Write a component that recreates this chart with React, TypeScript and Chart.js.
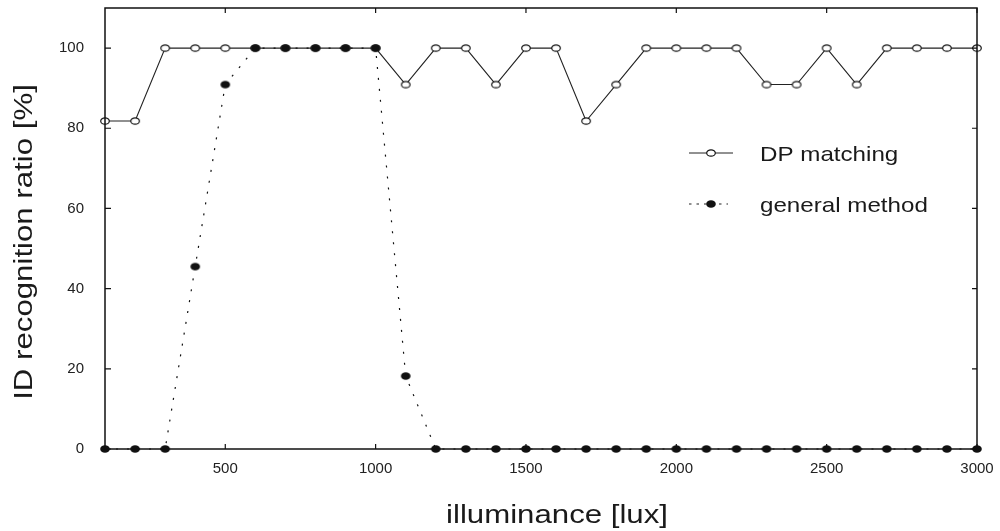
import React, { useEffect, useRef } from 'react';
import { Chart, registerables } from 'chart.js';

Chart.register(...registerables);

const illuminance = [100, 200, 300, 400, 500, 600, 700, 800, 900, 1000, 1100, 1200, 1300, 1400, 1500, 1600, 1700, 1800, 1900, 2000, 2100, 2200, 2300, 2400, 2500, 2600, 2700, 2800, 2900, 3000];
const dpMatching = [81.8, 81.8, 100, 100, 100, 100, 100, 100, 100, 100, 90.9, 100, 100, 90.9, 100, 100, 81.8, 90.9, 100, 100, 100, 100, 90.9, 90.9, 100, 90.9, 100, 100, 100, 100];
const generalMethod = [0, 0, 0, 45.5, 90.9, 100, 100, 100, 100, 100, 18.2, 0, 0, 0, 0, 0, 0, 0, 0, 0, 0, 0, 0, 0, 0, 0, 0, 0, 0, 0];
const xTicks = [500, 1000, 1500, 2000, 2500, 3000];
const yTicks = [0, 20, 40, 60, 80, 100];
const seriesNames = ['DP matching', 'general method'];
const xTitle = 'illuminance [lux]';
const yTitle = 'ID recognition ratio [%]';

const FAMILY = '"Liberation Sans", Arial, Helvetica, sans-serif';

function makeMarker(filled: boolean): HTMLCanvasElement {
  const c = document.createElement('canvas');
  c.width = 14;
  c.height = 12;
  const g = c.getContext('2d')!;
  g.beginPath();
  if (filled) {
    g.ellipse(7, 6, 4.8, 3.8, 0, 0, Math.PI * 2);
    g.fillStyle = '#111';
    g.fill();
  } else {
    g.ellipse(7, 6, 4.3, 3.2, 0, 0, Math.PI * 2);
    g.fillStyle = '#fff';
    g.fill();
    g.lineWidth = 1.2;
    g.strokeStyle = '#111';
    g.stroke();
  }
  return c;
}

export default function App() {
  const ref = useRef<HTMLCanvasElement | null>(null);

  useEffect(() => {
    if (!ref.current) return;
    const openMark = makeMarker(false);
    const fullMark = makeMarker(true);

    const overlay = {
      id: 'overlay',
      afterDatasetsDraw(chart: any) {
        const { ctx, chartArea: a, scales } = chart;
        const x = scales.x;
        const y = scales.y;
        ctx.save();
        // frame
        ctx.strokeStyle = '#111';
        ctx.lineWidth = 1.5;
        ctx.setLineDash([]);
        ctx.strokeRect(a.left, a.top, a.right - a.left, a.bottom - a.top);
        // inward ticks
        ctx.lineWidth = 1.2;
        ctx.beginPath();
        xTicks.forEach((v) => {
          const px = x.getPixelForValue(v);
          ctx.moveTo(px, a.bottom);
          ctx.lineTo(px, a.bottom - 5);
          ctx.moveTo(px, a.top);
          ctx.lineTo(px, a.top + 5);
        });
        yTicks.forEach((v) => {
          const py = y.getPixelForValue(v);
          ctx.moveTo(a.left, py);
          ctx.lineTo(a.left + 6, py);
          ctx.moveTo(a.right, py);
          ctx.lineTo(a.right - 5, py);
        });
        ctx.stroke();

        // axis titles
        ctx.fillStyle = '#1a1a1a';
        ctx.font = `26px ${FAMILY}`;
        ctx.textAlign = 'center';
        ctx.textBaseline = 'alphabetic';
        ctx.save();
        ctx.translate(557, 523);
        ctx.scale(1.2, 1);
        ctx.fillText(xTitle, 0, 0);
        ctx.restore();
        ctx.save();
        ctx.translate(32, 242);
        ctx.rotate(-Math.PI / 2);
        ctx.scale(1.2, 1);
        ctx.fillText(yTitle, 0, 0);
        ctx.restore();

        // legend
        const ly = [153, 204];
        ctx.strokeStyle = '#222';
        ctx.lineWidth = 1;
        ctx.beginPath();
        ctx.moveTo(689, ly[0]);
        ctx.lineTo(733, ly[0]);
        ctx.stroke();
        ctx.lineWidth = 1.2;
        ctx.setLineDash([2.5, 5]);
        ctx.beginPath();
        ctx.moveTo(689, ly[1]);
        ctx.lineTo(728, ly[1]);
        ctx.stroke();
        ctx.setLineDash([]);
        ctx.drawImage(openMark, 711 - 7, ly[0] - 6);
        ctx.drawImage(fullMark, 711 - 7, ly[1] - 6);
        ctx.font = `21px ${FAMILY}`;
        ctx.textAlign = 'left';
        ctx.fillStyle = '#1a1a1a';
        seriesNames.forEach((name, i) => {
          ctx.save();
          ctx.translate(760, ly[i] + 8);
          ctx.scale(1.15, 1);
          ctx.fillText(name, 0, 0);
          ctx.restore();
        });
        ctx.restore();
      },
    };

    const chart = new Chart(ref.current, {
      type: 'line',
      data: {
        datasets: [
          {
            label: seriesNames[1],
            data: illuminance.map((v, i) => ({ x: v, y: generalMethod[i] })),
            borderColor: '#111',
            borderWidth: 1.2,
            borderDash: [2, 9],
            pointStyle: fullMark as any,
            pointRadius: 4,
            tension: 0,
            clip: false as any,
            order: 0,
          },
          {
            label: seriesNames[0],
            data: illuminance.map((v, i) => ({ x: v, y: dpMatching[i] })),
            borderColor: '#222',
            borderWidth: 1.1,
            pointStyle: openMark as any,
            pointRadius: 4,
            tension: 0,
            clip: false as any,
            order: 1,
          },
        ],
      },
      options: {
        animation: false,
        responsive: false,
        layout: { padding: { top: 8, right: 23, left: 0, bottom: 0 } },
        plugins: { legend: { display: false }, tooltip: { enabled: false } },
        scales: {
          x: {
            type: 'linear',
            min: 100,
            max: 3000,
            grid: { display: false, drawTicks: false },
            border: { display: false },
            ticks: {
              padding: 11,
              color: '#222',
              font: { family: FAMILY, size: 15 },
              maxRotation: 0,
              autoSkip: false,
              callback: (v: any) => String(v),
            },
            afterBuildTicks: (s: any) => {
              s.ticks = xTicks.map((v) => ({ value: v }));
            },
            afterFit: (s: any) => {
              s.height = 82;
              s.paddingLeft = 0;
              s.paddingRight = 0;
            },
          },
          y: {
            type: 'linear',
            min: 0,
            max: 110,
            grid: { display: false, drawTicks: false },
            border: { display: false },
            ticks: {
              padding: 21,
              color: '#222',
              font: { family: FAMILY, size: 15 },
              autoSkip: false,
              callback: (v: any) => String(v),
            },
            afterBuildTicks: (s: any) => {
              s.ticks = yTicks.map((v) => ({ value: v }));
            },
            afterFit: (s: any) => {
              s.width = 105;
              s.paddingTop = 0;
              s.paddingBottom = 0;
            },
          },
        },
      },
      plugins: [overlay],
    });
    return () => chart.destroy();
  }, []);

  return (
    <div style={{ position: 'absolute', left: 0, top: 0, width: 1000, height: 531, background: '#fff' }}>
      <canvas ref={ref} width={1000} height={531} style={{ display: 'block' }} />
    </div>
  );
}
